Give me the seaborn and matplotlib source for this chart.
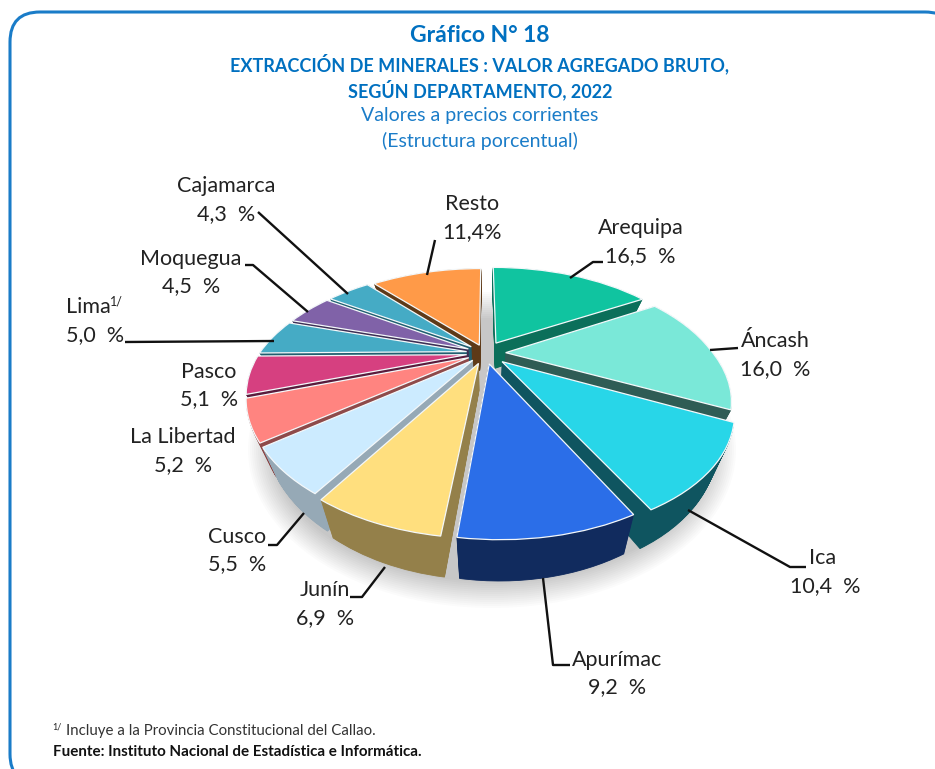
import numpy as np
import matplotlib
matplotlib.use("Agg")
import matplotlib.pyplot as plt
import seaborn as sns
from matplotlib.patches import Ellipse, PathPatch
from matplotlib.path import Path
from matplotlib.transforms import Transform

departamentos = ["Arequipa", "Áncash", "Ica", "Apurímac", "Junín", "Cusco",
                 "La Libertad", "Pasco", "Lima", "Moquegua", "Cajamarca", "Resto"]
valores = [16.5, 16.0, 10.4, 9.2, 6.9, 5.5, 5.2, 5.1, 5.0, 4.5, 4.3, 11.4]

top_hex = ["#10C4A0", "#7AE8D8", "#28D6E8", "#2B6EE8", "#FFDF7E", "#CCEBFF",
           "#FF8480", "#D64080", "#45ABC5", "#8062A8", "#45ABC5", "#FF9A48"]
side_hex = ["#0B6F5A", "#2F5C55", "#0F5560", "#112B5E", "#94804A", "#96A9B6",
            "#8E4A4A", "#5A1B3C", "#1F5F70", "#3D2F55", "#1F5F70", "#5E3A18"]
explode = [0.11, 0.10, 0.11, 0.10, 0.10, 0.09, 0.09, 0.09, 0.09, 0.09, 0.09, 0.08]

# label centre (px), value line centre (px)
label_pos = {
    "Arequipa": (641, 228, 640, 256), "Áncash": (775, 341, 775, 369),
    "Ica": (823, 558, 825, 586), "Apurímac": (617, 660, 617, 687),
    "Junín": (325, 590, 325, 618), "Cusco": (237, 537, 237, 564),
    "La Libertad": (183, 437, 183, 465), "Pasco": (209, 372, 209, 399),
    "Lima": (88, 307, 95, 335), "Moquegua": (191, 259, 191, 286),
    "Cajamarca": (226, 186, 226, 214), "Resto": (472, 204, 472, 232),
}
leaders = [
    [(570, 278), (593, 262), (603, 262)],
    [(710, 350), (738, 348)],
    [(688, 510), (790, 567), (806, 567)],
    [(543, 578), (553, 665), (570, 665)],
    [(385, 567), (362, 597), (350, 597)],
    [(304, 513), (277, 545), (268, 545)],
    [(274, 341), (125, 342)],
    [(308, 312), (253, 265), (245, 265)],
    [(348, 294), (258, 212)],
    [(427, 275), (435, 240)],
]

sns.set_theme(style="white")
plt.rcParams["font.family"] = ["Lato", "DejaVu Sans"]

CX, CY = 485, 353
PERSP, SX, SY, DEPTH, SHRINK, SKEW = 0.337, 207, 107, 26, 0.07, 9


class PieProjection(Transform):
    # flat pie -> tilted disc in pixels, z is how far below the top face
    input_dims = 2
    output_dims = 2

    def __init__(self, z):
        super().__init__()
        self.z = z

    def transform_non_affine(self, xy):
        xy = np.asarray(xy)
        w = 1 + PERSP * xy[:, 1]
        px = CX + SX * xy[:, 0] * (1 - SHRINK * self.z) / w + SKEW * np.clip(-xy[:, 1], 0, None)
        py = CY - (SY * xy[:, 1] - DEPTH * self.z) / w
        return np.column_stack([px, py])


fig = plt.figure(figsize=(9.35, 7.69), dpi=100)
ax = fig.add_axes([0, 0, 1, 1])

# soft shadow under the pie
for i in range(14):
    ax.add_patch(Ellipse((492, 450), 2 * (218 + 2 * i), 2 * (132 + 2 * i),
                         color="black", alpha=0.016, lw=0))

top_colors = sns.color_palette(top_hex)
side_colors = sns.color_palette(side_hex)

for z in np.linspace(1, 0.02, 50):
    wedges, _ = ax.pie(valores, explode=explode, startangle=90, counterclock=False,
                       colors=side_colors, wedgeprops={"lw": 0.6})
    for w in wedges:
        w.set_edgecolor(w.get_facecolor())
        w.set_transform(PieProjection(z) + ax.transData)

wedges, _ = ax.pie(valores, explode=explode, startangle=90, counterclock=False,
                   colors=top_colors, wedgeprops={"lw": 0.9, "edgecolor": "#F4F8FA"})
for w in wedges:
    w.set_transform(PieProjection(0) + ax.transData)

ax.set_aspect("auto")
ax.set_xlim(0, 935)
ax.set_ylim(769, 0)
ax.axis("off")

# frame runs off the right and bottom of the picture
frame = Path([(40, 784), (10, 784), (10, 754), (10, 42), (10, 12), (40, 12), (925, 12), (955, 12), (955, 42)],
             [Path.MOVETO, Path.CURVE3, Path.CURVE3, Path.LINETO, Path.CURVE3, Path.CURVE3,
              Path.LINETO, Path.CURVE3, Path.CURVE3])
ax.add_patch(PathPatch(frame, fc="none", ec="#1A7CC8", lw=2.2, zorder=2))

for pts in leaders:
    xs, ys = zip(*pts)
    ax.plot(xs, ys, color="#111111", lw=1.7, zorder=3, solid_capstyle="butt")

for name, val in zip(departamentos, valores):
    lx, ly, vx, vy = label_pos[name]
    txt = f"{val:.1f}".replace(".", ",")
    txt = txt + "%" if name == "Resto" else txt + "  %"
    ax.text(lx, ly, name, fontsize=15.5, color="#222222", ha="center", va="center", zorder=4)
    ax.text(vx, vy, txt, fontsize=15.5, color="#222222", ha="center", va="center", zorder=4)
ax.text(110, 302, "1/", fontsize=9, color="#222222", ha="left", va="center", zorder=4)

blue = "#0070C0"
ax.text(480, 36, "Gráfico N° 18", fontsize=16.5, fontweight="bold", color=blue, ha="center", va="center")
ax.text(480, 64, "EXTRACCIÓN DE MINERALES : VALOR AGREGADO BRUTO,", fontsize=13, fontweight="bold",
        color=blue, ha="center", va="center")
ax.text(480, 90, "SEGÚN DEPARTAMENTO, 2022", fontsize=13, fontweight="bold", color=blue, ha="center", va="center")
ax.text(480, 116, "Valores a precios corrientes", fontsize=14, color="#1A7CC8", ha="center", va="center")
ax.text(480, 141, "(Estructura porcentual)", fontsize=14, color="#1A7CC8", ha="center", va="center")

ax.text(52, 727, "1/", fontsize=6.5, color="#222222", ha="left", va="center")
ax.text(66, 731, "Incluye a la Provincia Constitucional del Callao.", fontsize=10.8, color="#333333", ha="left", va="center")
ax.text(53, 752, "Fuente: Instituto Nacional de Estadística e Informática.", fontsize=10.9, fontweight="bold",
        color="#111111", ha="left", va="center")

fig.savefig("out.png", dpi=100)
